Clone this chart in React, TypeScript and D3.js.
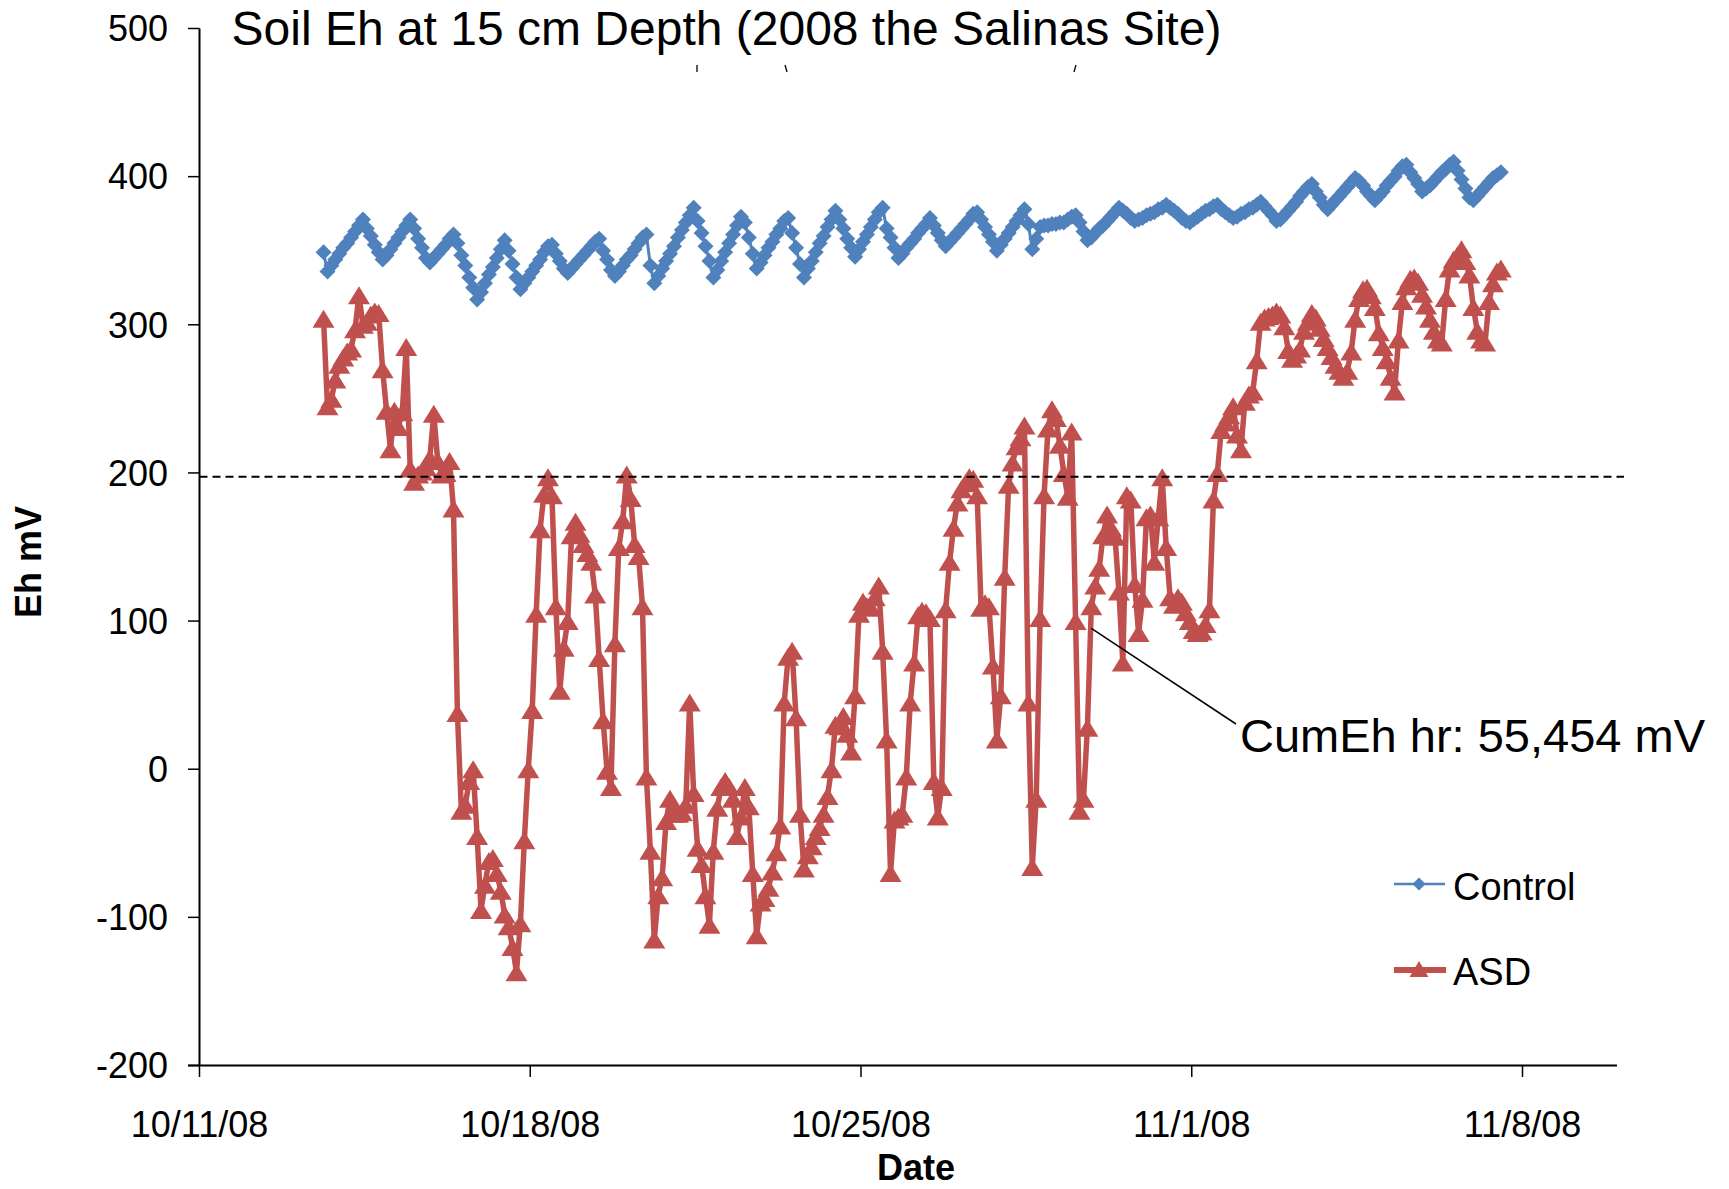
import React from "react";
import * as d3 from "d3";

// ---- data (2-hourly readings starting 10/13/08 15:00) ----
const startTime = Date.UTC(2008, 9, 13, 15);
const stepHours = 2;

const controlEh = [
  349, 336, 340, 344, 348, 352, 355, 359, 363, 367,
  371, 365, 360, 354, 349, 344, 347, 351, 355, 359,
  363, 367, 371, 365, 358, 352, 345, 342, 345, 348,
  351, 354, 358, 361, 355, 347, 340, 332, 325, 317,
  322, 328, 334, 339, 345, 351, 357, 350, 341, 332,
  324, 328, 332, 336, 340, 344, 349, 353, 354, 348,
  343, 338, 335, 338, 341, 344, 347, 350, 353, 356,
  358, 350, 344, 337, 333, 336, 340, 344, 347, 351,
  355, 359, 361, 340, 328, 333, 338, 343, 348, 353,
  359, 364, 369, 374, 379, 370, 362, 353, 343, 332,
  337, 343, 349, 355, 361, 367, 373, 369, 359, 348,
  338, 342, 347, 352, 356, 361, 365, 370, 372, 362,
  352, 341, 332, 338, 343, 349, 355, 360, 366, 371,
  377, 371, 365, 358, 352, 346, 351, 356, 361, 366,
  371, 376, 379, 365, 359, 352, 345, 348, 352, 355,
  358, 362, 365, 368, 372, 367, 362, 357, 353, 356,
  359, 362, 365, 368, 371, 375, 376, 371, 366, 361,
  356, 350, 354, 358, 362, 366, 370, 374, 378, 368,
  351, 358, 366, 367, 367, 368, 368, 369, 369, 371,
  373, 374, 369, 363, 357, 359, 362, 365, 367, 370,
  373, 376, 379, 377, 375, 372, 370, 371, 372, 374,
  375, 376, 378, 379, 381, 379, 377, 375, 372, 370,
  369, 371, 373, 375, 377, 378, 380, 381, 378, 376,
  374, 372, 373, 375, 376, 378, 379, 381, 383, 380,
  377, 374, 370, 371, 374, 377, 380, 383, 387, 390,
  393, 395, 390, 386, 381, 378, 381, 384, 387, 390,
  393, 396, 399, 397, 394, 390, 387, 384, 387, 390,
  394, 397, 400, 404, 407, 408, 403, 399, 395, 390,
  392, 394, 397, 400, 403, 405, 408, 410, 404, 398,
  392, 386, 384, 387, 390, 393, 396, 399, 401, 403,
];

const asdEh = [
  304, 245, 250, 263, 273, 278, 282, 284, 297, 320,
  300, 302, 307, 309, 308, 270, 242, 216, 242, 231,
  241, 285, 203, 194, 199, 201, 204, 210, 240, 208,
  199, 200, 208, 176, 38, -28, -24, -8, 0, -45,
  -95, -78, -62, -60, -70, -82, -98, -106, -120, -137,
  -104, -48, 0, 40, 105, 162, 186, 197, 185, 110,
  53, 82, 100, 158, 167, 159, 152, 146, 140, 118,
  75, 33, -1, -12, 85, 150, 168, 199, 183, 152,
  144, 110, -5, -55, -115, -85, -73, -35, -20, -30,
  -30, -29, -24, 45, -16, -53, -64, -85, -105, -55,
  -26, -12, -8, -12, -20, -45, -32, -12, -25, -70,
  -112, -90, -87, -80, -69, -56, -38, 45, 76, 80,
  35, -30, -67, -58, -52, -45, -39, -30, -18, 0,
  30, 29, 36, 24, 12, 50, 105, 113, 110, 109,
  116, 124, 80, 20, -70, -34, -32, -30, -5, 45,
  72, 104, 107, 106, 102, -8, -32, -12, 108, 140,
  163, 180, 189, 193, 197, 196, 185, 109, 112, 110,
  70, 20, 50, 130, 192, 207, 218, 224, 232, 45,
  -66, -20, 102, 185, 230, 243, 237, 219, 200, 184,
  228, 100, -28, -20, 28, 110, 124, 136, 158, 172,
  163, 157, 120, 72, 185, 182, 125, 92, 115, 170,
  172, 140, 170, 197, 150, 116, 111, 116, 113, 106,
  100, 94, 92, 93, 98, 108, 182, 200, 229, 234,
  239, 245, 226, 216, 248, 253, 255, 276, 302, 305,
  306, 307, 309, 307, 299, 283, 277, 280, 284, 296,
  302, 308, 305, 298, 291, 285, 279, 273, 269, 265,
  269, 282, 304, 318, 324, 325, 320, 312, 295, 285,
  276, 265, 255, 290, 316, 326, 331, 332, 329, 321,
  313, 304, 296, 290, 288, 318, 338, 344, 347, 351,
  343, 334, 312, 296, 290, 288, 316, 328, 336, 338,
];

const seriesNames = ["Control", "ASD"];
const yTicks = [-200, -100, 0, 100, 200, 300, 400, 500];
const xTickDates = [
  Date.UTC(2008, 9, 11),
  Date.UTC(2008, 9, 18),
  Date.UTC(2008, 9, 25),
  Date.UTC(2008, 10, 1),
  Date.UTC(2008, 10, 8),
];
const xDomain = [Date.UTC(2008, 9, 11), Date.UTC(2008, 10, 10)];
const yDomain = [-200, 500];
const thresholdEh = 197.5;
const titleText = "Soil Eh at 15 cm Depth (2008 the Salinas Site)";
const annotationText = "CumEh hr: 55,454 mV";
const annotationIndex = 195;
const annotationValue = 95;

const BLUE = "#4F81BD";
const RED = "#C0504D";
const FONT = "'Liberation Sans', Arial, Helvetica, sans-serif";

export default function App() {
  const W = 1729;
  const H = 1189;
  const left = 199.5;
  const right = 1617;
  const top = 28.5;
  const bottom = 1065.5;

  const x = d3
    .scaleUtc()
    .domain(xDomain.map((d) => new Date(d)))
    .range([left, right]);
  const y = d3.scaleLinear().domain(yDomain).range([bottom, top]);
  const tAt = (i: number) => new Date(startTime + i * stepHours * 3600 * 1000);
  const fmt = d3.utcFormat("%-m/%-d/%y");

  const line = d3
    .line<number>()
    .x((_, i) => x(tAt(i)))
    .y((d) => y(d));

  const diamond = (s: number) => `M0,${-s}L${s},0L0,${s}L${-s},0Z`;
  const triangle = (w: number, h: number) =>
    `M0,${-h / 2}L${w / 2},${h / 2}L${-w / 2},${h / 2}Z`;

  const dPath = diamond(8);
  const tPath = triangle(22, 18);
  const dLegend = diamond(6.5);
  const tLegend = triangle(19, 16);

  const ax = x(tAt(annotationIndex));
  const ay = y(annotationValue);

  return (
    <div
      style={{
        position: "fixed",
        left: 0,
        top: 0,
        width: W,
        height: H,
        background: "#fff",
      }}
    >
      <svg width={W} height={H} style={{ display: "block" }} fontFamily={FONT}>
        <rect x={0} y={0} width={W} height={H} fill="#fff" />

        {/* title */}
        <text x={231.5} y={44.5} fontSize={48} fill="#000">
          {titleText}
        </text>
        {/* clipped remnants below the title */}
        <g stroke="#000" strokeWidth={1.3}>
          <line x1={697} y1={65} x2={697} y2={72} />
          <line x1={785} y1={65} x2={787} y2={72} />
          <line x1={1076} y1={65} x2={1074} y2={72} />
        </g>

        {/* y axis */}
        <line x1={left} y1={top} x2={left} y2={bottom} stroke="#000" strokeWidth={2} />
        {yTicks.map((v) => (
          <g key={v}>
            <line x1={188} y1={y(v)} x2={left} y2={y(v)} stroke="#000" strokeWidth={1.5} />
            <text
              x={168}
              y={y(v)}
              dy={12.8}
              fontSize={36}
              textAnchor="end"
              fill="#000"
            >
              {v}
            </text>
          </g>
        ))}
        <text
          transform={`translate(41, 562) rotate(-90)`}
          fontSize={36}
          fontWeight="bold"
          textAnchor="middle"
          fill="#000"
        >
          Eh mV
        </text>

        {/* x axis */}
        <line x1={188} y1={bottom} x2={right} y2={bottom} stroke="#000" strokeWidth={2} />
        {xTickDates.map((d) => (
          <g key={d}>
            <line
              x1={x(new Date(d))}
              y1={bottom}
              x2={x(new Date(d))}
              y2={1077}
              stroke="#000"
              strokeWidth={1.5}
            />
            <text
              x={x(new Date(d))}
              y={1137}
              fontSize={36}
              textAnchor="middle"
              fill="#000"
            >
              {fmt(new Date(d))}
            </text>
          </g>
        ))}
        <text x={916} y={1180} fontSize={36} fontWeight="bold" textAnchor="middle" fill="#000">
          Date
        </text>

        {/* Control series */}
        <path d={line(controlEh) || ""} fill="none" stroke={BLUE} strokeWidth={3} />
        <g fill={BLUE}>
          {controlEh.map((v, i) => (
            <path key={i} d={dPath} transform={`translate(${x(tAt(i))},${y(v)})`} />
          ))}
        </g>

        {/* ASD series */}
        <path
          d={line(asdEh) || ""}
          fill="none"
          stroke={RED}
          strokeWidth={5.5}
          strokeLinejoin="round"
        />
        <g fill={RED}>
          {asdEh.map((v, i) => (
            <path key={i} d={tPath} transform={`translate(${x(tAt(i))},${y(v)})`} />
          ))}
        </g>

        {/* threshold dashed line */}
        <line
          x1={left}
          y1={y(thresholdEh)}
          x2={1624}
          y2={y(thresholdEh)}
          stroke="#000"
          strokeWidth={2}
          strokeDasharray="8,5"
        />

        {/* annotation */}
        <line x1={ax} y1={ay} x2={1236} y2={724} stroke="#000" strokeWidth={1.5} />
        <text x={1240} y={752} fontSize={47} fill="#000">
          {annotationText}
        </text>

        {/* legend */}
        <g>
          <line x1={1394} y1={884} x2={1445} y2={884} stroke={BLUE} strokeWidth={2.5} />
          <path d={dLegend} transform="translate(1419,884)" fill={BLUE} />
          <text x={1453} y={900} fontSize={38} fill="#000">
            {seriesNames[0]}
          </text>
          <line x1={1394} y1={970} x2={1446} y2={970} stroke={RED} strokeWidth={6} />
          <path d={tLegend} transform="translate(1419,969)" fill={RED} />
          <text x={1453} y={985} fontSize={38} fill="#000">
            {seriesNames[1]}
          </text>
        </g>
      </svg>
    </div>
  );
}
